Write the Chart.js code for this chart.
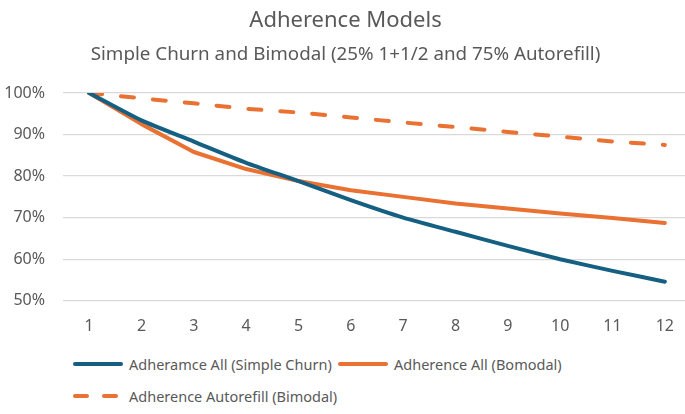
<!DOCTYPE html>
<html>
<head>
<meta charset="utf-8">
<script src="https://cdn.jsdelivr.net/npm/chart.js@4"></script>
<style>
  body { margin: 0; background: #fff; font-family: "Noto Sans", sans-serif; overflow: hidden; }
  #wrap { width: 691px; height: 345px; position: relative; }
  #legend { position: absolute; left: 0; top: 345px; width: 685px; color: #595959; font-size: 14.5px; }
  .item { position: absolute; display: flex; align-items: center; white-space: nowrap; }
  .item svg { margin-right: 5px; }
</style>
</head>
<body>
<div id="wrap"><canvas id="adherenceChart"></canvas></div>
<div id="legend"></div>
<script>
const months = ["1", "2", "3", "4", "5", "6", "7", "8", "9", "10", "11", "12"];

const simpleChurn = [1.000, 0.934, 0.883, 0.832, 0.788, 0.742, 0.700, 0.666, 0.632, 0.600, 0.572, 0.546];
const bimodalAll = [1.000, 0.925, 0.858, 0.817, 0.788, 0.766, 0.750, 0.734, 0.722, 0.710, 0.699, 0.687];
const bimodalAutorefill = [1.000, 0.987, 0.975, 0.962, 0.953, 0.941, 0.929, 0.918, 0.906, 0.895, 0.883, 0.875];

const yTicks = [0.5, 0.6, 0.7, 0.8, 0.9, 1.0];

const blue = "#156082";
const orange = "#E97132";
const textColor = "#595959";

const ctx = document.getElementById("adherenceChart");

new Chart(ctx, {

  type: "line",

  data: {
    labels: months,
    datasets: [
      {
        label: "Adheramce All (Simple Churn)",
        data: simpleChurn,
        borderColor: blue,
        borderWidth: 4,
        pointRadius: 0,
        tension: 0.2,
        borderCapStyle: "round",
        borderJoinStyle: "round"
      },
      {
        label: "Adherence All (Bomodal)",
        data: bimodalAll,
        borderColor: orange,
        borderWidth: 4,
        pointRadius: 0,
        tension: 0,
        borderCapStyle: "round",
        borderJoinStyle: "round"
      },
      {
        label: "Adherence Autorefill (Bimodal)",
        data: bimodalAutorefill,
        borderColor: orange,
        borderWidth: 4,
        borderDash: [13, 19],
        pointRadius: 0,
        tension: 0,
        borderCapStyle: "round"
      }
    ]
  },

  options: {
    responsive: true,
    maintainAspectRatio: false,
    animation: false,
    layout: {
      padding: { left: 0, right: 0, top: 8, bottom: 1 }
    },
    plugins: {
      legend: { display: false },
      tooltip: { enabled: false },
      title: {
        display: true,
        text: "Adherence Models",
        color: textColor,
        font: { family: "Noto Sans", size: 22, weight: "normal" },
        padding: { top: 0, bottom: 7 }
      },
      subtitle: {
        display: true,
        text: "Simple Churn and Bimodal (25% 1+1/2 and 75% Autorefill)",
        color: textColor,
        font: { family: "Noto Sans", size: 18.8, weight: "normal" },
        padding: { top: 2, bottom: 27 }
      }
    },
    scales: {
      x: {
        offset: true,
        grid: { display: false },
        border: { display: false },
        ticks: {
          color: textColor,
          font: { family: "Noto Sans", size: 16 },
          padding: 8
        }
      },
      y: {
        min: 0.5,
        max: 1.0,
        afterBuildTicks: (axis) => {
          axis.ticks = yTicks.map(v => ({ value: v }));
        },
        afterFit: (axis) => {
          axis.width = 63;
        },
        grid: { color: "#d9d9d9", lineWidth: 1.3, drawTicks: false },
        border: { display: false },
        ticks: {
          color: textColor,
          font: { family: "Noto Sans", size: 16 },
          padding: 18,
          callback: (v) => Math.round(v * 100) + "%"
        }
      }
    }
  }

});

// legend, laid out like the reference (two rows, left aligned)
const legendItems = [
  { text: "Adheramce All (Simple Churn)", color: blue, dash: false, left: 72, top: 9 },
  { text: "Adherence All (Bomodal)", color: orange, dash: false, left: 337, top: 9 },
  { text: "Adherence Autorefill (Bimodal)", color: orange, dash: true, left: 72, top: 41 }
];

const legendEl = document.getElementById("legend");

legendItems.forEach(item => {
  const div = document.createElement("div");
  div.className = "item";
  div.style.left = item.left + "px";
  div.style.top = item.top + "px";
  const dash = item.dash ? 'stroke-dasharray="12 17"' : "";
  div.innerHTML =
    '<svg width="52" height="8"><line x1="3" y1="4" x2="49" y2="4" stroke="' + item.color +
    '" stroke-width="4" stroke-linecap="round" ' + dash + '/></svg><span>' + item.text + "</span>";
  legendEl.appendChild(div);
});
</script>
</body>
</html>
